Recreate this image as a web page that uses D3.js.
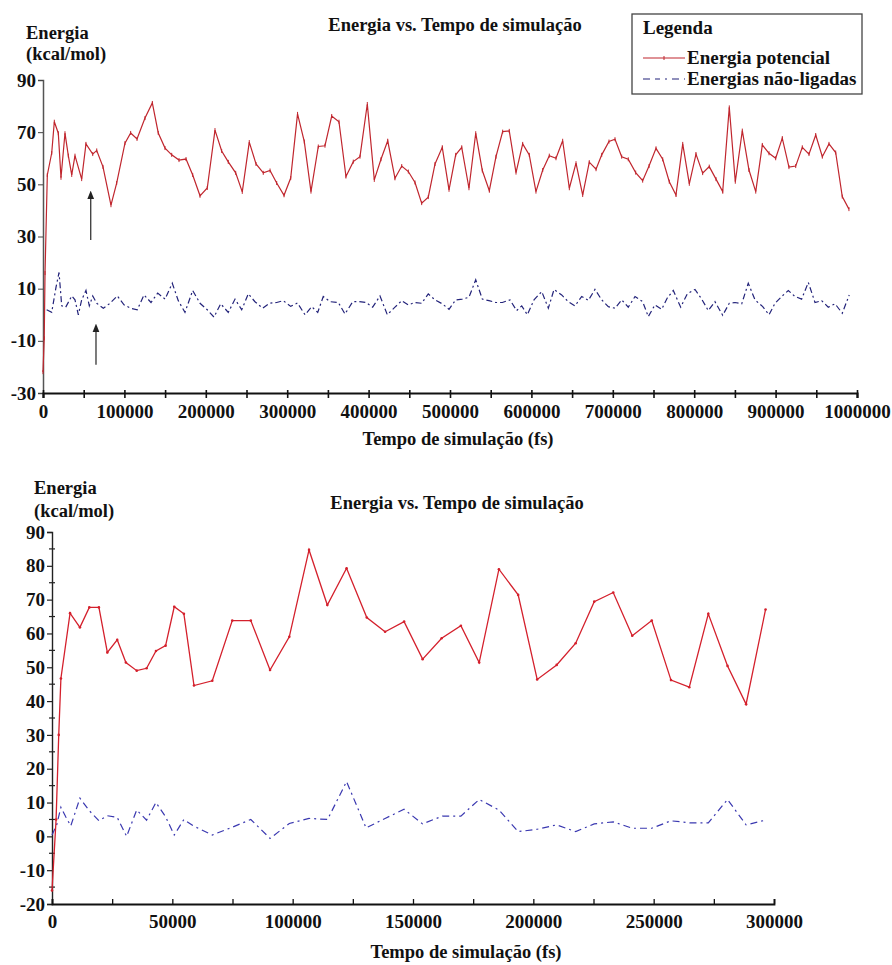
<!DOCTYPE html>
<html lang="pt">
<head>
<meta charset="utf-8">
<title>Energia vs. Tempo de simulação</title>
<script src="https://cdn.jsdelivr.net/npm/d3@7"></script>
<style>
body { margin: 0; background: #fff; }
text { font-family: "Liberation Serif", "Times New Roman", serif; font-weight: bold; fill: #111; }
</style>
</head>
<body>
<div id="chart"></div>
<script>
// ---- top chart data (0 - 1 000 000 fs) ----
var topTimePot = [0, 1500, 2500, 5300, 10700, 13900, 18800, 22100, 27000, 31100, 35300, 39300, 47500, 52800, 61100, 66000, 73700, 83500, 90500, 100700, 107700, 115500, 125300, 134300, 141600, 149900, 158100, 167100, 175700, 183900, 192900, 201800, 211300, 219500, 227600, 236700, 244800, 253400, 261700, 270600, 278900, 287100, 296100, 304300, 312700, 321000, 329200, 338200, 346400, 354700, 363600, 372200, 381200, 389400, 398400, 407000, 415200, 423500, 432400, 440700, 448800, 457000, 465200, 473300, 481600, 490500, 498800, 507000, 514400, 523300, 531600, 539700, 548300, 556500, 564700, 572800, 581100, 589300, 597400, 605600, 613900, 622000, 630200, 638400, 646600, 654800, 663000, 671100, 679400, 686400, 695300, 702700, 710900, 719000, 728100, 736700, 744500, 753100, 761300, 769400, 777600, 785900, 794000, 802200, 810400, 818500, 826800, 835000, 843100, 850500, 859100, 867300, 875600, 883700, 891900, 900100, 908200, 916400, 924700, 932800, 941000, 949300, 957400, 965600, 973800, 981900, 990100];
var topPot = [-22, -9, 16, 53.6, 62, 74, 69.6, 52.5, 69.6, 61, 53.6, 61, 52, 65.5, 61.6, 63, 56.7, 42, 50.5, 65.8, 69.7, 67.4, 75.4, 81.2, 69.7, 63.9, 61.3, 59.3, 59.7, 53.6, 45.6, 48.6, 70.8, 62.8, 58.6, 54.4, 47.1, 66.2, 57.8, 54.4, 55.3, 50.5, 45.8, 52.4, 77, 66.4, 47.2, 64.5, 64.8, 76.2, 74, 53, 58.7, 60.6, 80.8, 51.7, 59.6, 66.7, 52.3, 57, 54.9, 50.7, 42.8, 45.1, 57.8, 64.2, 47.9, 61.3, 64.2, 48.5, 69.6, 55.3, 47.6, 60.6, 70.2, 70.5, 54.5, 65.5, 61.3, 47.2, 55.5, 61, 60, 66.7, 48.5, 58.1, 45.9, 58.5, 55.8, 61.3, 66.4, 67.3, 60.6, 59.6, 54.5, 51.4, 57, 63.8, 59.6, 51, 45.9, 65.5, 50.2, 61.6, 54.3, 56.8, 52, 47.2, 79.5, 51, 70.6, 55.5, 47.2, 65.1, 61.9, 60, 67.7, 56.6, 57, 64.2, 61.6, 68.9, 60.6, 65.5, 62.2, 45.3, 40.5];

var topTimeNL = [4500, 10700, 16000, 19700, 23000, 27900, 35300, 39300, 43400, 47500, 52800, 56900, 61100, 66000, 74100, 82300, 91300, 99500, 107700, 115800, 124100, 132700, 140900, 149900, 158800, 166200, 174400, 183900, 192900, 201800, 210100, 218300, 227600, 235900, 244100, 252200, 260400, 269900, 278000, 287100, 295200, 304300, 312600, 321900, 330100, 337500, 344300, 352600, 362800, 371000, 380500, 388600, 396800, 405000, 414000, 423000, 432400, 440700, 448800, 457000, 465200, 473300, 481600, 490500, 498800, 507000, 515100, 523300, 531600, 539700, 547900, 556100, 564300, 573700, 581900, 588100, 595000, 603200, 612700, 620800, 627800, 637200, 645300, 653600, 661800, 669900, 678100, 686400, 694500, 702700, 710900, 719000, 727300, 736700, 743600, 751800, 760100, 766900, 774300, 783400, 791500, 801000, 809200, 817300, 825500, 835000, 843100, 850100, 858400, 866400, 874700, 884200, 891900, 899300, 907500, 915600, 923800, 932000, 940200, 948400, 956600, 964700, 973000, 981900, 990500];
var topNL = [1.9, 0.9, 10.6, 16.2, 3.4, 2.9, 7.2, 5.7, 0, 5.7, 9.3, 3.4, 7.2, 4.4, 2.5, 4.4, 7.2, 3.8, 2.5, 1.9, 7.6, 4.7, 8.3, 6, 12.1, 5.4, 0.9, 9.3, 4.4, 1.9, -0.9, 4.2, 0.9, 6, 1.9, 8, 5, 2.5, 4.4, 4.7, 5.4, 3.2, 4.5, 0, 3.1, 0.9, 7, 5, 4.7, 0.3, 5, 5, 4.7, 2.9, 7.2, 0, 2.9, 5.4, 3.8, 4.7, 4.4, 8, 5.7, 4.2, 2.1, 5.7, 6, 6.7, 13.4, 6, 5.4, 4.7, 4.7, 5.7, 1.6, 3.4, 0, 5.7, 8.9, 2.5, 9.7, 7.6, 5, 3.4, 7, 5.5, 9.7, 5.7, 3.1, 2.5, 5.7, 2.9, 7, 5, -0.7, 3.8, 2.1, 6.4, 9.3, 2.9, 8, 9.7, 6, 1.6, 5, -0.2, 4.4, 4.7, 4.2, 12.1, 5.7, 3.1, 0, 4.4, 7, 9.3, 7, 6, 12.4, 4.7, 5.4, 2.9, 4.2, 0.6, 7.6];

// ---- bottom chart data (0 - 300 000 fs) ----
var botTimePot = [0, 1700, 2800, 3700, 7500, 11600, 15500, 19500, 23000, 27100, 30700, 35200, 39300, 43200, 47200, 50800, 54800, 59000, 66600, 74900, 82600, 90600, 98600, 106800, 114400, 122400, 130800, 138400, 146300, 154000, 161900, 169900, 177500, 185700, 193700, 201600, 209700, 217600, 225300, 233200, 241100, 249200, 257200, 264800, 272700, 280700, 288400, 296500];
var botPot = [-16, 5, 30, 46.7, 66, 61.8, 67.7, 67.7, 54.4, 58.1, 51.4, 49, 49.7, 54.8, 56.4, 67.9, 65.8, 44.6, 46, 63.8, 63.8, 49.2, 59, 84.7, 68.4, 79.3, 64.7, 60.5, 63.5, 52.4, 58.6, 62.3, 51.4, 79, 71.4, 46.4, 50.7, 57.1, 69.4, 72.1, 59.3, 63.8, 46.2, 44.1, 65.8, 50.4, 39.1, 67.1];

var botTimeNL = [0, 2000, 3700, 5700, 7800, 11600, 15500, 19500, 23000, 27100, 31000, 35200, 39300, 43200, 47200, 50800, 54800, 58700, 66600, 74900, 82600, 90600, 98600, 106800, 114500, 122400, 130500, 138400, 146300, 154000, 162200, 169900, 177500, 185700, 193700, 201600, 209700, 217600, 225300, 233200, 241100, 249200, 257200, 265100, 272700, 280700, 288400, 296500];
var botNL = [0.4, 3.5, 8.6, 5.8, 3.1, 11.3, 7.6, 4.6, 6.1, 5.6, 0, 7.8, 4.8, 10, 5.8, 0.4, 5, 3.1, 0.4, 2.7, 5, -0.6, 3.8, 5.3, 5, 16.2, 2.5, 5.3, 8, 3.7, 6, 6, 10.9, 7.8, 1.4, 2.1, 3.4, 1.4, 3.7, 4.3, 2.4, 2.4, 4.6, 4, 4, 10.9, 3.4, 4.8];

// ---- ticks / labels ----
var topYTicks = [-30, -10, 10, 30, 50, 70, 90];
var topXTicks = d3.range(0, 1000001, 50000);
var botYTicks = [-20, -10, 0, 10, 20, 30, 40, 50, 60, 70, 80, 90];
var botYMinor = d3.range(-15, 90, 10);
var botXTicks = d3.range(0, 300001, 25000);
var seriesNames = ["Energia potencial", "Energias não-ligadas"];
var chartTitle = "Energia vs. Tempo de simulação";
var xTitle = "Tempo de simulação (fs)";

var red = "#c0262e", redBot = "#d4202c", blue = "#23237a", blueBot = "#3a38b0";

var svg = d3.select("#chart").append("svg")
    .attr("width", 892).attr("height", 965);

function zip(ts, vs) { return ts.map(function(t, i) { return [t, vs[i]]; }); }
function plain(d) { return String(d); }   // hyphen minus like the original, not U+2212

// ================= TOP =================
var xT = d3.scaleLinear().domain([0, 1000000]).range([43, 857]);
var yT = d3.scaleLinear().domain([-30, 90]).range([393, 80]);
var gTop = svg.append("g");

gTop.append("text").attr("x", 455).attr("y", 31).attr("text-anchor", "middle")
  .style("font-size", "18.5px").text(chartTitle);
gTop.append("text").attr("x", 26).attr("y", 39).style("font-size", "18.5px").text("Energia");
gTop.append("text").attr("x", 26).attr("y", 60).style("font-size", "18.5px").text("(kcal/mol)");

var yAxT = gTop.append("g").attr("transform", "translate(43,0)")
  .call(d3.axisLeft(yT).tickValues(topYTicks).tickSize(5).tickPadding(2).tickFormat(plain));
yAxT.select(".domain").attr("stroke", "#555").attr("stroke-width", 1.5);
yAxT.selectAll(".tick line").attr("stroke", "#444");
yAxT.selectAll("text").style("font-size", "19px").attr("fill", "#111");

var xAxT = gTop.append("g").attr("transform", "translate(0,393)")
  .call(d3.axisBottom(xT).tickValues(topXTicks).tickSize(5)
    .tickFormat(function(d) { return d % 100000 === 0 ? String(d) : ""; }));
xAxT.select(".domain").attr("stroke", "#111").attr("stroke-width", 2.2);
xAxT.selectAll(".tick line").attr("y1", -3).attr("y2", 5).attr("stroke", "#111").attr("stroke-width", 1.6);
xAxT.selectAll("text").attr("y", 12).style("font-size", "19px").attr("fill", "#111");

gTop.append("text").attr("x", 458).attr("y", 445).attr("text-anchor", "middle")
  .style("font-size", "18.5px").text(xTitle);

var lineT = d3.line().x(function(d) { return xT(d[0]); }).y(function(d) { return yT(d[1]); });

gTop.append("path").datum(zip(topTimeNL, topNL)).attr("d", lineT)
  .attr("fill", "none").attr("stroke", blue).attr("stroke-width", 1.2)
  .attr("stroke-dasharray", "6,3,2,3");

gTop.append("path").datum(zip(topTimePot, topPot)).attr("d", lineT)
  .attr("fill", "none").attr("stroke", red).attr("stroke-width", 1.2);
gTop.selectAll(".mk").data(zip(topTimePot, topPot)).enter().append("line")
  .attr("x1", function(d) { return xT(d[0]); }).attr("x2", function(d) { return xT(d[0]); })
  .attr("y1", function(d) { return yT(d[1]) - 2; }).attr("y2", function(d) { return yT(d[1]) + 2; })
  .attr("stroke", red).attr("stroke-width", 1);

// arrows
svg.append("defs").append("marker").attr("id", "ah").attr("viewBox", "0 0 10 10")
  .attr("refX", 5).attr("refY", 5).attr("markerWidth", 6).attr("markerHeight", 6)
  .attr("orient", "auto").append("path").attr("d", "M0,1 L10,5 L0,9 Z").attr("fill", "#222");
var arrows = [[58600, 28.7, 46], [65100, -19.2, -5]];
gTop.selectAll(".arr").data(arrows).enter().append("line")
  .attr("x1", function(d) { return xT(d[0]); }).attr("x2", function(d) { return xT(d[0]); })
  .attr("y1", function(d) { return yT(d[1]); }).attr("y2", function(d) { return yT(d[2]); })
  .attr("stroke", "#444").attr("stroke-width", 1.4).attr("marker-end", "url(#ah)");

// legend
var lg = gTop.append("g");
lg.append("rect").attr("x", 632).attr("y", 14).attr("width", 230).attr("height", 80)
  .attr("fill", "#fff").attr("stroke", "#444").attr("stroke-width", 1.3);
lg.append("text").attr("x", 643).attr("y", 34).style("font-size", "19px").text("Legenda");
lg.append("line").attr("x1", 643).attr("x2", 685).attr("y1", 58).attr("y2", 58).attr("stroke", red).attr("stroke-width", 1.2);
lg.append("line").attr("x1", 664).attr("x2", 664).attr("y1", 56).attr("y2", 60).attr("stroke", red);
lg.append("text").attr("x", 687).attr("y", 64).style("font-size", "19px").text(seriesNames[0]);
lg.append("line").attr("x1", 643).attr("x2", 685).attr("y1", 79).attr("y2", 79).attr("stroke", blue).attr("stroke-width", 1.2)
  .attr("stroke-dasharray", "7,5,5,5,2,5");
lg.append("text").attr("x", 687).attr("y", 85).style("font-size", "19px").text(seriesNames[1]);

// ================= BOTTOM =================
var xB = d3.scaleLinear().domain([0, 300000]).range([52, 774]);
var yB = d3.scaleLinear().domain([-20, 90]).range([904, 532]);
var gBot = svg.append("g");

gBot.append("text").attr("x", 457).attr("y", 509).attr("text-anchor", "middle")
  .style("font-size", "18.5px").text(chartTitle);
gBot.append("text").attr("x", 34).attr("y", 494).style("font-size", "18.5px").text("Energia");
gBot.append("text").attr("x", 34).attr("y", 517).style("font-size", "18.5px").text("(kcal/mol)");

var yAxB = gBot.append("g").attr("transform", "translate(52,0)")
  .call(d3.axisLeft(yB).tickValues(botYTicks).tickSize(5).tickPadding(2).tickFormat(plain));
yAxB.select(".domain").attr("stroke", "#222").attr("stroke-width", 1.4);
yAxB.selectAll(".tick line").attr("stroke", "#222").attr("stroke-width", 1.2);
yAxB.selectAll("text").style("font-size", "19px").attr("fill", "#111");
gBot.selectAll(".minor").data(botYMinor).enter().append("line")
  .attr("x1", 49).attr("x2", 55)
  .attr("y1", function(d) { return yB(d); }).attr("y2", function(d) { return yB(d); })
  .attr("stroke", "#222").attr("stroke-width", 1.2);

var xAxB = gBot.append("g").attr("transform", "translate(0,904)")
  .call(d3.axisBottom(xB).tickValues(botXTicks).tickSize(-5)
    .tickFormat(function(d) { return d % 50000 === 0 ? String(d) : ""; }));
xAxB.select(".domain").attr("stroke", "#111").attr("stroke-width", 1.8);
xAxB.selectAll(".tick line").attr("stroke", "#111").attr("stroke-width", 1.3);
xAxB.selectAll("text").attr("y", 11).style("font-size", "19px").attr("fill", "#111");

gBot.append("text").attr("x", 466).attr("y", 958).attr("text-anchor", "middle")
  .style("font-size", "18.5px").text(xTitle);

var lineB = d3.line().x(function(d) { return xB(d[0]); }).y(function(d) { return yB(d[1]); });

gBot.append("path").datum(zip(botTimeNL, botNL)).attr("d", lineB)
  .attr("fill", "none").attr("stroke", blueBot).attr("stroke-width", 1.2)
  .attr("stroke-dasharray", "7,4,2,4");

gBot.append("path").datum(zip(botTimePot, botPot)).attr("d", lineB)
  .attr("fill", "none").attr("stroke", redBot).attr("stroke-width", 1.3);
gBot.selectAll(".dot").data(zip(botTimePot, botPot)).enter().append("circle")
  .attr("cx", function(d) { return xB(d[0]); }).attr("cy", function(d) { return yB(d[1]); })
  .attr("r", 1.3).attr("fill", redBot);
</script>
</body>
</html>
